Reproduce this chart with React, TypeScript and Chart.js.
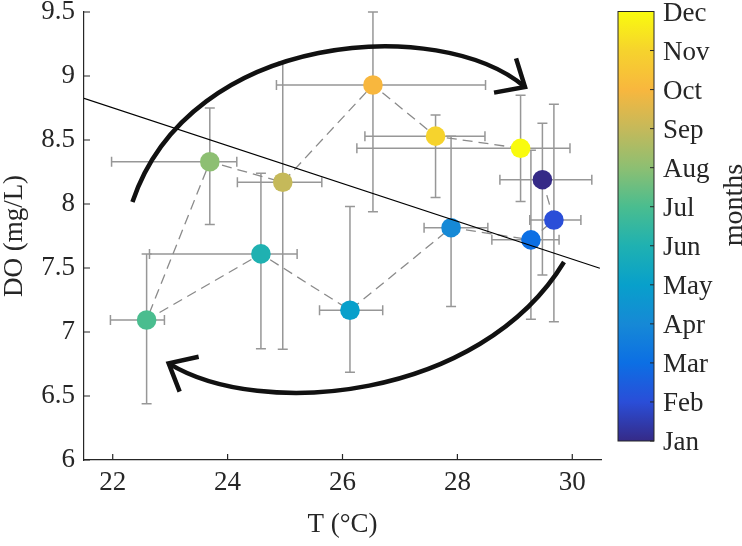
import React, { useEffect, useRef } from 'react';
import { Chart, registerables } from 'chart.js';

Chart.register(...registerables);

// ---------- data ----------
const months = ['Jan', 'Feb', 'Mar', 'Apr', 'May', 'Jun', 'Jul', 'Aug', 'Sep', 'Oct', 'Nov', 'Dec'];
const monthNumber = [1, 2, 3, 4, 5, 6, 7, 8, 9, 10, 11, 12];
const tempMean = [29.48, 29.68, 29.28, 27.89, 26.13, 24.58, 22.59, 23.69, 24.96, 26.53, 27.62, 29.10];
const doMean = [8.19, 7.875, 7.72, 7.815, 7.17, 7.61, 7.094, 8.33, 8.17, 8.93, 8.53, 8.435];
const tempLow = [28.74, 29.26, 28.60, 27.42, 25.60, 22.64, 21.96, 21.98, 24.17, 24.85, 26.39, 26.25];
const tempHigh = [30.34, 30.15, 29.77, 28.53, 26.70, 25.21, 22.90, 24.16, 25.64, 28.49, 28.48, 29.96];
const doLow = [7.445, 7.08, 7.10, 7.20, 6.685, 6.87, 6.44, 7.84, 6.865, 7.94, 8.05, 8.02];
const doHigh = [8.63, 8.78, 8.42, 8.53, 7.98, 8.24, 7.61, 8.75, 9.107, 9.50, 8.695, 8.85];

// linear fit endpoints (T, DO)
const fitT = [21.5, 30.48];
const fitDO = [8.826, 7.498];

// axis ticks
const xTickValues = [22, 24, 26, 28, 30];
const xTickLabels = ['22', '24', '26', '28', '30'];
const yTickValues = [6, 6.5, 7, 7.5, 8, 8.5, 9, 9.5];
const yTickLabels = ['6', '6.5', '7', '7.5', '8', '8.5', '9', '9.5'];

// colormap (parula-like), one stop per month, Jan..Dec
const monthColors = ['#352A87', '#2A4ED8', '#0C6FE4', '#1689D6', '#08A0CB', '#1FB1B1', '#4ABD8F', '#8DBF72', '#C5B95A', '#F8B73E', '#F6D32D', '#F9FB0E'];

// annotation arrows in data units [T, DO]
const upperArc = [[22.343, 8.016], [23.351, 9.359], [27.699, 9.477], [29.177, 8.914]];
const upperHead = [[28.638, 8.870], [29.177, 8.914], [29.021, 9.138]];
const lowerArc = [[29.856, 7.547], [28.395, 6.469], [24.569, 6.313], [22.974, 6.755]];
const lowerHead = [[23.496, 6.807], [22.974, 6.755], [23.165, 6.534]];

// ---------- styles ----------
const FONT = '"Liberation Serif", "Times New Roman", serif';
const TEXT = '#262626';

const errorBarsPlugin = {
  id: 'errorBars',
  beforeDatasetsDraw(chart: any) {
    const { ctx, scales } = chart;
    const xs = scales.x, ys = scales.y;
    const cap = 5;
    ctx.save();
    ctx.strokeStyle = '#979797';
    ctx.lineWidth = 1.5;
    for (let i = 0; i < tempMean.length; i++) {
      const px = xs.getPixelForValue(tempMean[i]);
      const py = ys.getPixelForValue(doMean[i]);
      const x0 = xs.getPixelForValue(tempLow[i]);
      const x1 = xs.getPixelForValue(tempHigh[i]);
      const y0 = ys.getPixelForValue(doLow[i]);
      const y1 = ys.getPixelForValue(doHigh[i]);
      ctx.beginPath();
      ctx.moveTo(px, y0); ctx.lineTo(px, y1);
      ctx.moveTo(px - cap, y0); ctx.lineTo(px + cap, y0);
      ctx.moveTo(px - cap, y1); ctx.lineTo(px + cap, y1);
      ctx.moveTo(x0, py); ctx.lineTo(x1, py);
      ctx.moveTo(x0, py - cap); ctx.lineTo(x0, py + cap);
      ctx.moveTo(x1, py - cap); ctx.lineTo(x1, py + cap);
      ctx.stroke();
    }
    ctx.restore();
  },
};

const arrowsPlugin = {
  id: 'arrows',
  afterDatasetsDraw(chart: any) {
    const { ctx, scales } = chart;
    const P = (p: number[]) => [scales.x.getPixelForValue(p[0]), scales.y.getPixelForValue(p[1])];
    ctx.save();
    ctx.strokeStyle = '#111111';
    ctx.lineWidth = 4.5;
    ctx.lineCap = 'butt';
    ctx.lineJoin = 'miter';
    for (const [arc, head] of [[upperArc, upperHead], [lowerArc, lowerHead]] as any) {
      const [a, b, c, d] = arc.map(P);
      ctx.beginPath();
      ctx.moveTo(a[0], a[1]);
      ctx.bezierCurveTo(b[0], b[1], c[0], c[1], d[0], d[1]);
      ctx.stroke();
      const h = head.map(P);
      ctx.beginPath();
      ctx.moveTo(h[0][0], h[0][1]);
      ctx.lineTo(h[1][0], h[1][1]);
      ctx.lineTo(h[2][0], h[2][1]);
      ctx.stroke();
    }
    ctx.restore();
  },
};

const inwardTicksPlugin = {
  id: 'inwardTicks',
  afterDraw(chart: any) {
    const { ctx, scales, chartArea } = chart;
    const len = 6;
    ctx.save();
    ctx.strokeStyle = TEXT;
    ctx.lineWidth = 1.2;
    ctx.beginPath();
    for (const v of xTickValues) {
      const x = scales.x.getPixelForValue(v);
      ctx.moveTo(x, chartArea.bottom);
      ctx.lineTo(x, chartArea.bottom - len);
    }
    for (const v of yTickValues) {
      const y = scales.y.getPixelForValue(v);
      ctx.moveTo(chartArea.left, y);
      ctx.lineTo(chartArea.left + len, y);
    }
    ctx.stroke();
    ctx.restore();
  },
};

const colorbarPlugin = {
  id: 'colorbar',
  afterDraw(chart: any) {
    const { ctx, chartArea } = chart;
    const left = chartArea.right + 17;
    const width = 36;
    const top = 11.5;
    const bottom = 441;
    const n = monthNumber.length;
    const posOf = (m: number) => bottom - ((m - 1) / (n - 1)) * (bottom - top);
    ctx.save();
    const g = ctx.createLinearGradient(0, bottom, 0, top);
    monthColors.forEach((c, i) => g.addColorStop(i / (n - 1), c));
    ctx.fillStyle = g;
    ctx.fillRect(left, top, width, bottom - top);
    ctx.strokeStyle = TEXT;
    ctx.lineWidth = 1;
    ctx.strokeRect(left, top, width, bottom - top);
    ctx.beginPath();
    for (const m of monthNumber) {
      const y = posOf(m);
      ctx.moveTo(left + width, y);
      ctx.lineTo(left + width - 4, y);
    }
    ctx.stroke();
    ctx.fillStyle = TEXT;
    ctx.font = `27px ${FONT}`;
    ctx.textAlign = 'left';
    ctx.textBaseline = 'middle';
    monthNumber.forEach((m, i) => {
      ctx.fillText(months[i], left + width + 9, posOf(m) + 2);
    });
    ctx.translate(735, 205);
    ctx.rotate(-Math.PI / 2);
    ctx.textAlign = 'center';
    ctx.font = `28px ${FONT}`;
    ctx.fillText('months', 0, 0);
    ctx.restore();
  },
};

export default function App() {
  const ref = useRef<HTMLCanvasElement | null>(null);
  useEffect(() => {
    if (!ref.current) return;
    const points = tempMean.map((t, i) => ({ x: t, y: doMean[i] }));
    const chart = new Chart(ref.current, {
      type: 'scatter',
      data: {
        datasets: [
          {
            label: 'fit',
            data: fitT.map((t, i) => ({ x: t, y: fitDO[i] })),
            showLine: true,
            borderColor: '#000000',
            borderWidth: 1.2,
            pointRadius: 0,
            order: 0,
          } as any,
          {
            label: 'months',
            data: points,
            showLine: false,
            pointRadius: 9.8,
            pointHoverRadius: 9.8,
            pointBorderWidth: 0,
            pointBackgroundColor: monthNumber.map((m) => monthColors[m - 1]),
            pointBorderColor: monthNumber.map((m) => monthColors[m - 1]),
            order: 1,
          } as any,
          {
            label: 'path',
            data: points,
            showLine: true,
            borderColor: '#8a8a8a',
            borderWidth: 1.3,
            borderDash: [10, 6],
            pointRadius: 0,
            order: 2,
          } as any,
        ],
      },
      options: {
        animation: false,
        responsive: false,
        events: [],
        layout: { padding: { top: 12, right: 141, left: 0, bottom: 0 } },
        plugins: { legend: { display: false }, tooltip: { enabled: false } },
        scales: {
          x: {
            type: 'linear',
            min: 21.5,
            max: 30.5,
            afterBuildTicks: (s: any) => {
              s.ticks = xTickValues.map((v) => ({ value: v }));
            },
            afterFit: (s: any) => {
              s.height = 86;
              s.paddingLeft = 0;
              s.paddingRight = 0;
            },
            grid: { display: false, drawTicks: false },
            border: { display: true, color: TEXT, width: 1.2 },
            ticks: {
              autoSkip: false,
              maxRotation: 0,
              padding: 7,
              color: TEXT,
              font: { family: FONT, size: 27, lineHeight: 1.2 },
              callback: (v: any) => xTickLabels[xTickValues.indexOf(Number(v))] ?? '',
            },
            title: {
              display: true,
              text: 'T (°C)',
              color: TEXT,
              font: { family: FONT, size: 27, lineHeight: 1 },
              padding: { top: 0, bottom: 7.5 },
            },
          },
          y: {
            type: 'linear',
            min: 6,
            max: 9.5,
            afterBuildTicks: (s: any) => {
              s.ticks = yTickValues.map((v) => ({ value: v }));
            },
            afterFit: (s: any) => {
              s.width = 84;
              s.paddingTop = 0;
              s.paddingBottom = 0;
            },
            grid: { display: false, drawTicks: false },
            border: { display: true, color: TEXT, width: 1.2 },
            ticks: {
              autoSkip: false,
              padding: 9,
              color: TEXT,
              font: { family: FONT, size: 27, lineHeight: 1.2 },
              callback: (v: any) => yTickLabels[yTickValues.indexOf(Number(v))] ?? '',
            },
            title: {
              display: true,
              text: 'DO (mg/L)',
              color: TEXT,
              font: { family: FONT, size: 27, lineHeight: 1 },
              padding: { top: 1.5, bottom: 0 },
            },
          },
        },
      } as any,
      plugins: [errorBarsPlugin, arrowsPlugin, inwardTicksPlugin, colorbarPlugin],
    });
    return () => chart.destroy();
  }, []);

  return (
    <div style={{ position: 'fixed', left: 0, top: 0, width: 742, height: 546, background: '#ffffff' }}>
      <canvas ref={ref} width={742} height={546} style={{ display: 'block', width: 742, height: 546 }} />
    </div>
  );
}
